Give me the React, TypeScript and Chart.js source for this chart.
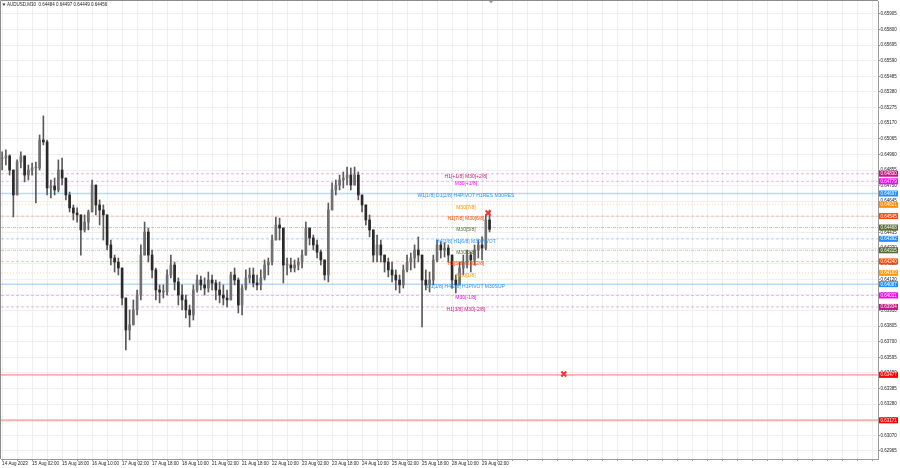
import React, { useEffect, useRef } from 'react';
import { Chart, registerables } from 'chart.js';

Chart.register(...registerables);

// ---- DATA (2-hour aggregated bars) ----
const HIGHS = [
  0.64977, 0.64990, 0.64957, 0.64855, 0.64923, 0.64977, 0.64936, 0.64889, 0.64902, 0.64909,
  0.65091, 0.65219, 0.65057, 0.64788, 0.64801, 0.64923, 0.64936, 0.64801, 0.64707, 0.64620,
  0.64600, 0.64553, 0.64553, 0.64586, 0.64788, 0.64754, 0.64654, 0.64620, 0.64553, 0.64384,
  0.64283, 0.64263, 0.64196, 0.63880, 0.63914, 0.63981, 0.64048, 0.64351, 0.64505, 0.64465,
  0.64317, 0.64196, 0.64082, 0.64082, 0.64183, 0.64283, 0.64236, 0.64129, 0.64082, 0.64014,
  0.63947, 0.64082, 0.64149, 0.64142, 0.64129, 0.64169, 0.64149, 0.64115, 0.64102, 0.64082,
  0.64048, 0.64169, 0.64196, 0.64129, 0.64082, 0.64183, 0.64196, 0.64196, 0.64149, 0.64183,
  0.64250, 0.64263, 0.64418, 0.64539, 0.64532, 0.64465, 0.64263, 0.64263, 0.64250, 0.64263,
  0.64317, 0.64505, 0.64465, 0.64418, 0.64384, 0.64317, 0.64236, 0.64633, 0.64768, 0.64788,
  0.64821, 0.64842, 0.64875, 0.64869, 0.64875, 0.64842, 0.64687, 0.64620, 0.64553, 0.64452,
  0.64418, 0.64384, 0.64283, 0.64263, 0.64236, 0.64183, 0.64149, 0.64216, 0.64283, 0.64297,
  0.64351, 0.64405, 0.64283, 0.64183, 0.64169, 0.64283, 0.64384, 0.64371, 0.64364, 0.64351,
  0.64283, 0.64149, 0.64236, 0.64283, 0.64317, 0.64303, 0.64351, 0.64384, 0.64405, 0.64553,
  0.64586,
];
const LOWS = [
  0.64855, 0.64889, 0.64821, 0.64539, 0.64687, 0.64869, 0.64775, 0.64788, 0.64821, 0.64633,
  0.64855, 0.65024, 0.64687, 0.64667, 0.64687, 0.64707, 0.64754, 0.64654, 0.64573, 0.64519,
  0.64505, 0.64283, 0.64438, 0.64452, 0.64586, 0.64553, 0.64485, 0.64384, 0.64317, 0.64216,
  0.64169, 0.64149, 0.63947, 0.63644, 0.63712, 0.63813, 0.63880, 0.63981, 0.64283, 0.64236,
  0.64129, 0.63981, 0.63961, 0.63994, 0.64014, 0.64129, 0.64048, 0.63947, 0.63914, 0.63860,
  0.63799, 0.63846, 0.64034, 0.64048, 0.64014, 0.64034, 0.64048, 0.63981, 0.63961, 0.63947,
  0.63934, 0.63994, 0.64082, 0.63893, 0.63880, 0.64048, 0.64095, 0.64068, 0.64048, 0.64048,
  0.64115, 0.64149, 0.64216, 0.64384, 0.64384, 0.64095, 0.64149, 0.64169, 0.64169, 0.64183,
  0.64196, 0.64283, 0.64351, 0.64317, 0.64263, 0.64216, 0.64115, 0.64102, 0.64586, 0.64687,
  0.64721, 0.64734, 0.64754, 0.64721, 0.64754, 0.64654, 0.64573, 0.64485, 0.64405, 0.64236,
  0.64236, 0.64236, 0.64169, 0.64136, 0.64102, 0.64048, 0.64028, 0.64061, 0.64169, 0.64183,
  0.64196, 0.64236, 0.63799, 0.64048, 0.64034, 0.64082, 0.64236, 0.64263, 0.64270, 0.64236,
  0.64061, 0.64028, 0.64082, 0.64149, 0.64196, 0.64169, 0.64216, 0.64263, 0.64250, 0.64317,
  0.64438,
];
const CLOSES = [
  0.64936, 0.64950, 0.64855, 0.64687, 0.64909, 0.64950, 0.64821, 0.64855, 0.64869, 0.64869,
  0.65057, 0.65044, 0.64734, 0.64748, 0.64721, 0.64855, 0.64801, 0.64687, 0.64600, 0.64566,
  0.64553, 0.64452, 0.64505, 0.64573, 0.64754, 0.64620, 0.64586, 0.64553, 0.64351, 0.64263,
  0.64236, 0.64196, 0.63994, 0.63779, 0.63813, 0.63914, 0.64014, 0.64283, 0.64438, 0.64283,
  0.64183, 0.64048, 0.64034, 0.64034, 0.64149, 0.64216, 0.64102, 0.64014, 0.63981, 0.63914,
  0.63880, 0.64048, 0.64115, 0.64082, 0.64061, 0.64115, 0.64095, 0.64048, 0.64014, 0.63994,
  0.63981, 0.64149, 0.64115, 0.63947, 0.64061, 0.64129, 0.64149, 0.64095, 0.64082, 0.64129,
  0.64216, 0.64236, 0.64384, 0.64485, 0.64465, 0.64216, 0.64216, 0.64196, 0.64216, 0.64236,
  0.64283, 0.64465, 0.64398, 0.64351, 0.64303, 0.64250, 0.64149, 0.64586, 0.64721, 0.64754,
  0.64788, 0.64801, 0.64821, 0.64754, 0.64821, 0.64687, 0.64620, 0.64519, 0.64452, 0.64283,
  0.64351, 0.64283, 0.64236, 0.64183, 0.64149, 0.64115, 0.64082, 0.64183, 0.64236, 0.64263,
  0.64317, 0.64283, 0.64115, 0.64082, 0.64115, 0.64250, 0.64351, 0.64317, 0.64330, 0.64283,
  0.64115, 0.64082, 0.64196, 0.64236, 0.64283, 0.64250, 0.64317, 0.64351, 0.64330, 0.64519,
  0.64456,
];
const FIRST_OPEN = 0.64930;

const X_LABELS = [
  '14 Aug 2023', '15 Aug 02:00', '15 Aug 18:00', '16 Aug 10:00', '17 Aug 02:00', '17 Aug 18:00',
  '18 Aug 10:00', '21 Aug 02:00', '21 Aug 18:00', '22 Aug 10:00', '23 Aug 02:00', '23 Aug 18:00',
  '24 Aug 10:00', '25 Aug 02:00', '25 Aug 18:00', '28 Aug 10:00', '29 Aug 02:00',
];
const Y_TICKS = [
  0.65905, 0.65800, 0.65695, 0.65590, 0.65485, 0.65380, 0.65275, 0.65170, 0.65065, 0.64960,
  0.64855, 0.64750, 0.64645, 0.64540, 0.64435, 0.64330, 0.64225, 0.64120, 0.64015, 0.63910,
  0.63805, 0.63700, 0.63595, 0.63490, 0.63385, 0.63280, 0.63175, 0.63070, 0.62965,
];

const LEVEL_VALUES = [
  0.64830, 0.64779, 0.64697, 0.64621, 0.64545, 0.64468, 0.64392, 0.64315, 0.64240, 0.64163,
  0.64087, 0.64011, 0.63934, 0.63477, 0.63171,
];
const LEVEL_TEXTS = [
  'H1[+1/8] M30[+2/8]', 'M30[+1/8]', 'W1[1/8] D1[2/8] H4PIVOT H1RES M30RES', 'M30[7/8]',
  'H1[7/8] M30[6/8]', 'M30[5/8]', 'H4[3/8] H1[6/8] M30PIVOT', 'M30[3/8]', 'H1[5/8] M30[2/8]',
  'M30[1/8]', 'D1[1/8] H4[2/8] H1PIVOT M30SUP', 'M30[-1/8]', 'H1[3/8] M30[-2/8]', '', '',
];

const MARKER_X = [129.6, 149.8];
const MARKER_Y = [0.64566, 0.63483];

const SYMBOL = 'AUDUSD,M30';
const HEADER_OHLC = ['0.64484', '0.64497', '0.64449', '0.64456'];

// ---- STYLES / LAYOUT ----
const LEVEL_COLORS = [
  '#c71585', '#ff00ff', '#1e90ff', '#ff8c00', '#ff4500', '#556b2f', '#1e90ff', '#556b2f',
  '#ff4500', '#ff9c00', '#1e90ff', '#ff00ff', '#c71585', '#ff0000', '#ff0000',
];
const LEVEL_LINE_COLORS = [
  'rgba(199,21,133,0.32)', 'rgba(255,0,255,0.32)', 'rgba(30,144,255,0.32)', 'rgba(255,140,0,0.35)',
  'rgba(255,69,0,0.32)', 'rgba(85,107,47,0.35)', 'rgba(30,144,255,0.4)', 'rgba(85,107,47,0.32)',
  'rgba(255,69,0,0.32)', 'rgba(255,156,0,0.35)', 'rgba(30,144,255,0.32)', 'rgba(255,0,255,0.32)',
  'rgba(199,21,133,0.32)', 'rgba(255,40,40,0.38)', 'rgba(255,40,40,0.38)',
];
const LEVEL_DASH = [
  [3, 2], [3, 2], [], [1, 2], [3, 2], [3, 1, 1, 1], [3, 2], [3, 1, 1, 1], [3, 2], [1, 2],
  [], [3, 2], [3, 2], [], [],
];
const LEVEL_WIDTH = [1, 1, 1.6, 1, 1, 1, 1, 1, 1, 1, 1.6, 1, 1, 1.6, 1.6];

const X_MIN = -0.3;
const X_MAX = 233.6;
const Y_MIN = 0.62911;
const Y_MAX = 0.65992;
const TEXT_X = 123.7;
const FONT = '"Liberation Sans", Arial, sans-serif';

export default function App() {
  const ref = useRef<HTMLCanvasElement | null>(null);

  useEffect(() => {
    document.body.style.margin = '0';
    const canvas = ref.current;
    if (!canvas) return;

    const opens = CLOSES.map((_, i) => (i === 0 ? FIRST_OPEN : CLOSES[i - 1]));
    const wickData = HIGHS.map((h, i) => ({
      x: i,
      y: [Math.min(LOWS[i], opens[i], CLOSES[i]), Math.max(h, opens[i], CLOSES[i])],
    }));
    const bodyData = CLOSES.map((c, i) => ({ x: i, y: [opens[i], c] }));
    const bodyColors = CLOSES.map((c, i) => (c >= opens[i] ? '#707070' : '#2a2a2a'));

    const levelSets = LEVEL_VALUES.map((v, i) => ({
      type: 'line' as const,
      data: [
        { x: X_MIN, y: v },
        { x: X_MAX, y: v },
      ],
      borderColor: LEVEL_LINE_COLORS[i],
      borderWidth: LEVEL_WIDTH[i],
      borderDash: LEVEL_DASH[i],
      pointRadius: 0,
      order: 10,
    }));

    const decor = {
      id: 'mtDecor',
      afterDatasetsDraw(chart: any) {
        const { ctx, scales } = chart;
        const x = scales.x;
        const y = scales.y;
        ctx.save();
        ctx.font = `5px ${FONT}`;
        ctx.textAlign = 'center';
        ctx.textBaseline = 'middle';
        LEVEL_TEXTS.forEach((t, i) => {
          if (!t) return;
          ctx.fillStyle = LEVEL_COLORS[i];
          ctx.fillText(t, x.getPixelForValue(TEXT_X), y.getPixelForValue(LEVEL_VALUES[i]) + 2.5);
        });
        ctx.restore();
      },
      afterDraw(chart: any) {
        const { ctx, chartArea: a, scales } = chart;
        const y = scales.y;
        ctx.save();
        // frame (left / top)
        ctx.strokeStyle = '#8c8c8c';
        ctx.lineWidth = 1;
        ctx.beginPath();
        ctx.moveTo(a.left - 0.5, a.bottom);
        ctx.lineTo(a.left - 0.5, a.top - 0.5);
        ctx.lineTo(a.right, a.top - 0.5);
        ctx.stroke();
        // price boxes on the axis
        ctx.font = `4.5px ${FONT}`;
        ctx.textAlign = 'left';
        ctx.textBaseline = 'middle';
        LEVEL_VALUES.forEach((v, i) => {
          const py = y.getPixelForValue(v);
          ctx.fillStyle = LEVEL_COLORS[i];
          ctx.fillRect(a.right + 1, py - 3, 19, 6);
          ctx.fillStyle = '#ffffff';
          ctx.fillText(v.toFixed(5), a.right + 2.5, py + 0.3);
        });
        // header
        ctx.fillStyle = '#333';
        ctx.beginPath();
        ctx.moveTo(a.left + 1.5, a.top + 2.5);
        ctx.lineTo(a.left + 4.5, a.top + 2.5);
        ctx.lineTo(a.left + 3, a.top + 5);
        ctx.closePath();
        ctx.fill();
        ctx.fillStyle = '#222';
        ctx.fillText(`${SYMBOL}  ${HEADER_OHLC.join(' ')}`, a.left + 6, a.top + 3.8);
        // chart shift marker
        ctx.fillStyle = '#9a9a9a';
        ctx.beginPath();
        ctx.moveTo(489, a.top);
        ctx.lineTo(493, a.top);
        ctx.lineTo(491, a.top + 2.5);
        ctx.closePath();
        ctx.fill();
        ctx.restore();
      },
    };

    const chart = new Chart(canvas, {
      type: 'bar',
      data: {
        datasets: [
          {
            type: 'line' as const,
            data: MARKER_X.map((mx, i) => ({ x: mx, y: MARKER_Y[i] })),
            showLine: false,
            pointStyle: 'crossRot',
            pointRadius: 3.5,
            pointBorderWidth: 2,
            pointBorderColor: '#f03838',
            pointBackgroundColor: '#f03838',
            order: 1,
          } as any,
          {
            type: 'bar' as const,
            data: bodyData as any,
            backgroundColor: bodyColors,
            barThickness: 2,
            minBarLength: 1,
            grouped: false,
            order: 4,
          } as any,
          {
            type: 'bar' as const,
            data: wickData as any,
            backgroundColor: '#5a5a5a',
            barThickness: 1,
            grouped: false,
            order: 5,
          } as any,
          ...(levelSets as any[]),
        ],
      },
      options: {
        responsive: false,
        animation: false,
        devicePixelRatio: 1,
        events: [],
        layout: { autoPadding: false, padding: { left: 1, top: 1, right: 0, bottom: 0 } },
        plugins: { legend: { display: false }, tooltip: { enabled: false } },
        scales: {
          x: {
            type: 'linear',
            min: X_MIN,
            max: X_MAX,
            offset: false,
            afterFit: (s: any) => {
              s.height = 9;
              s.paddingLeft = 0;
              s.paddingRight = 0;
            },
            afterBuildTicks: (s: any) => {
              const t = [];
              for (let v = 0; v <= 232; v += 4) t.push({ value: v });
              s.ticks = t;
            },
            ticks: {
              autoSkip: false,
              maxRotation: 0,
              minRotation: 0,
              align: 'start',
              padding: 0,
              color: '#222',
              font: { size: 4.5, family: FONT },
              callback: (v: any) => {
                const n = Number(v);
                if (n % 8 !== 0) return '';
                return X_LABELS[n / 8] ?? '';
              },
            },
            grid: { color: '#efefef', offset: false, tickLength: 2, tickColor: '#9a9a9a' },
            border: { color: '#9a9a9a' },
          },
          y: {
            type: 'linear',
            position: 'right',
            min: Y_MIN,
            max: Y_MAX,
            afterFit: (s: any) => {
              s.width = 22;
              s.paddingTop = 0;
              s.paddingBottom = 0;
            },
            afterBuildTicks: (s: any) => {
              s.ticks = Y_TICKS.map((v) => ({ value: v }));
            },
            ticks: {
              autoSkip: false,
              padding: 0.5,
              color: '#222',
              font: { size: 4.5, family: FONT },
              callback: (v: any) => Number(v).toFixed(5),
            },
            grid: { color: '#efefef', tickLength: 2, tickColor: '#9a9a9a' },
            border: { color: '#9a9a9a' },
          },
        },
      } as any,
      plugins: [decor],
    });

    return () => chart.destroy();
  }, []);

  return <canvas ref={ref} width={900} height={468} style={{ display: 'block' }} />;
}
